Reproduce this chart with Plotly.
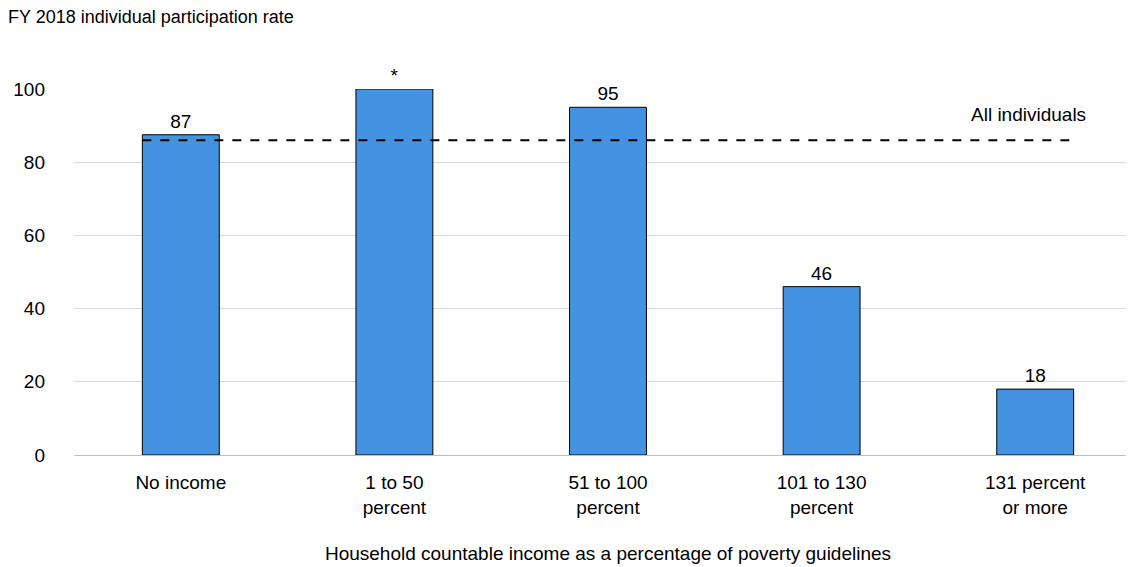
import plotly.graph_objects as go

categories = ["No income", "1 to 50<br>percent", "51 to 100<br>percent", "101 to 130<br>percent", "131 percent<br>or more"]
values = [87.5, 100, 95, 46, 18]
labels = ["87", "*", "95", "46", "18"]
all_individuals = 86

F = "Liberation Sans, Arial, sans-serif"
fig = go.Figure()
fig.add_bar(x=list(range(5)), y=values, text=labels, textposition="outside", cliponaxis=False,
            textfont=dict(size=19, color="#000"), width=0.36,
            marker=dict(color="#4493e2", line=dict(color="#000", width=1)))
fig.add_trace(go.Scatter(x=[-0.18, 4.2], y=[all_individuals]*2, mode="lines",
                         line=dict(color="#000", width=2, dash="dash"), hoverinfo="skip"))
fig.add_annotation(x=3.97, y=all_individuals + 3.5, text="All individuals", showarrow=False,
                   xanchor="center", yanchor="bottom", font=dict(size=19, color="#000", family=F))
fig.add_annotation(xref="paper", yref="paper", x=-0.064, y=1.165, text="FY 2018 individual participation rate",
                   showarrow=False, xanchor="left", yanchor="bottom", font=dict(size=18, color="#000", family=F))
fig.update_layout(
    width=1134, height=567, showlegend=False, plot_bgcolor="white", paper_bgcolor="white",
    margin=dict(l=66, r=0, t=81, b=120), font=dict(family=F, size=19, color="#000"),
    xaxis=dict(tickvals=list(range(5)), ticktext=categories, range=[-0.5, 4.5], showline=True, automargin=False,
               linecolor="#bfbfbf", ticks="outside", ticklen=10, tickcolor="rgba(0,0,0,0)",
               title=dict(text="Household countable income as a percentage of poverty guidelines",
               font=dict(size=19), standoff=30), tickfont=dict(size=19)),
    yaxis=dict(range=[0, 100], tickvals=[0, 20, 40, 60, 80, 100], gridcolor="#d9d9d9", zeroline=False,
               automargin=False, tickfont=dict(size=19), ticklabelstandoff=28),
)
fig.write_html("out.html")
